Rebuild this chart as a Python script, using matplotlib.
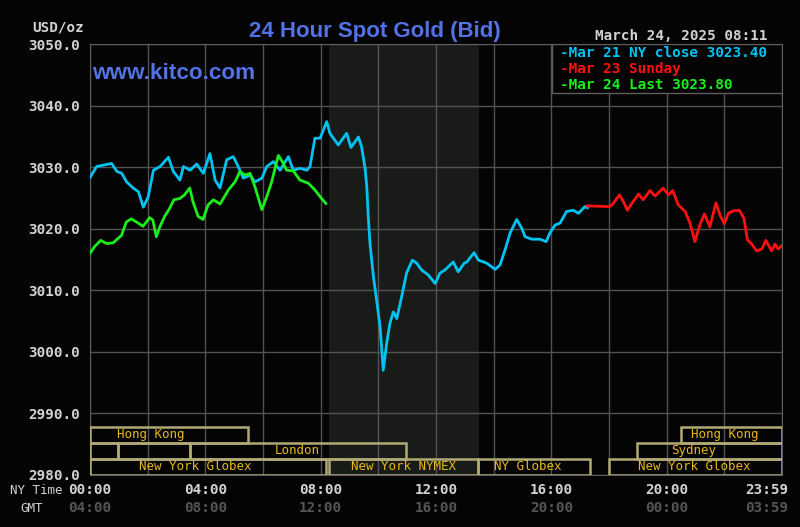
import matplotlib
matplotlib.use("Agg")
import matplotlib.pyplot as plt
import matplotlib.transforms as mtransforms
from matplotlib.patches import Rectangle

# time is hours after midnight, NY time; price is USD/oz bid
mar21_hours = [0.0, 0.23, 0.75, 0.93, 1.10, 1.27, 1.50, 1.68, 1.85, 2.02, 2.20, 2.43, 2.72, 2.89,
               3.12, 3.24, 3.47, 3.70, 3.93, 4.16, 4.34, 4.51, 4.74, 4.97, 5.14, 5.32, 5.55, 5.72,
               5.96, 6.13, 6.36, 6.59, 6.88, 7.05, 7.28, 7.52, 7.63, 7.80, 7.98, 8.21, 8.32, 8.61,
               8.90, 9.05, 9.31, 9.42, 9.54, 9.60, 9.65, 9.71, 9.83, 9.94, 10.06, 10.17, 10.29,
               10.40, 10.52, 10.64, 10.81, 10.98, 11.18, 11.33, 11.50, 11.73, 11.97, 12.14, 12.31,
               12.60, 12.77, 12.98, 13.07, 13.32, 13.47, 13.76, 14.05, 14.22, 14.39, 14.57, 14.80,
               14.97, 15.09, 15.32, 15.61, 15.82, 15.95, 16.13, 16.30, 16.53, 16.76, 16.94, 17.17,
               17.25]
mar21_price = [3028.3, 3030.1, 3030.6, 3029.3, 3029.0, 3027.6, 3026.6, 3026.0, 3023.5, 3025.2,
               3029.5, 3030.1, 3031.6, 3029.3, 3027.9, 3030.1, 3029.5, 3030.5, 3029.0, 3032.2,
               3027.9, 3026.6, 3031.2, 3031.7, 3030.1, 3028.2, 3028.7, 3027.6, 3028.2, 3030.1,
               3030.9, 3029.5, 3031.7, 3029.5, 3029.8, 3029.5, 3030.1, 3034.7, 3034.7, 3037.4,
               3035.5, 3033.6, 3035.5, 3033.2, 3034.9, 3033.3, 3029.8, 3026.8, 3022.0, 3017.6,
               3012.2, 3008.4, 3004.1, 2997.0, 3001.4, 3004.6, 3006.5, 3005.4, 3009.0, 3012.8,
               3014.9, 3014.4, 3013.3, 3012.5, 3011.1, 3012.8, 3013.3, 3014.6, 3013.0, 3014.4,
               3014.6, 3016.1, 3014.9, 3014.4, 3013.4, 3014.1, 3016.5, 3019.3, 3021.5, 3020.1,
               3018.7, 3018.3, 3018.3, 3017.9, 3019.3, 3020.6, 3020.9, 3022.8, 3023.0, 3022.5,
               3023.6, 3023.4]

mar23_hours = [17.25, 18.03, 18.15, 18.36, 18.50, 18.64, 18.79, 19.02, 19.19, 19.42, 19.60, 19.88,
               20.06, 20.21, 20.40, 20.64, 20.81, 20.98, 21.15, 21.31, 21.50, 21.71, 21.85, 22.00,
               22.14, 22.31, 22.52, 22.68, 22.80, 22.95, 23.12, 23.30, 23.44, 23.64, 23.76, 23.87,
               23.98]
mar23_price = [3023.7, 3023.6, 3024.1, 3025.5, 3024.4, 3023.0, 3024.1, 3025.6, 3024.7, 3026.2,
               3025.3, 3026.6, 3025.5, 3026.2, 3023.9, 3022.8, 3020.9, 3017.9, 3020.6, 3022.4,
               3020.3, 3024.2, 3022.2, 3020.8, 3022.5, 3022.9, 3023.0, 3021.7, 3018.2, 3017.5,
               3016.4, 3016.7, 3018.1, 3016.4, 3017.5, 3016.7, 3017.2]

mar24_hours = [0.0, 0.16, 0.37, 0.57, 0.80, 0.97, 1.09, 1.26, 1.43, 1.61, 1.84, 2.07, 2.18, 2.30,
               2.42, 2.59, 2.76, 2.91, 3.11, 3.28, 3.46, 3.57, 3.75, 3.92, 4.10, 4.28, 4.51, 4.80,
               5.03, 5.20, 5.38, 5.55, 5.72, 5.96, 6.13, 6.30, 6.53, 6.67, 6.82, 7.05, 7.28, 7.57,
               7.80, 7.98, 8.18]
mar24_price = [3016.0, 3017.1, 3018.1, 3017.6, 3017.7, 3018.4, 3018.9, 3021.1, 3021.6, 3021.1,
               3020.4, 3021.8, 3021.4, 3018.7, 3020.3, 3022.0, 3023.3, 3024.7, 3024.9, 3025.5,
               3026.6, 3024.4, 3022.0, 3021.5, 3023.9, 3024.7, 3024.0, 3026.3, 3027.6, 3029.3,
               3028.7, 3029.0, 3026.8, 3023.1, 3025.2, 3027.6, 3031.9, 3030.9, 3029.5, 3029.4,
               3027.9, 3027.4, 3026.3, 3025.2, 3024.1]

legend_labels = ["-Mar 21 NY close 3023.40", "-Mar 23 Sunday", "-Mar 24 Last 3023.80"]

ny_tick_hours = [0, 4, 8, 12, 16, 20]
ny_tick_labels = ["00:00", "04:00", "08:00", "12:00", "16:00", "20:00"]
gmt_tick_labels = ["04:00", "08:00", "12:00", "16:00", "20:00", "00:00"]

# trading sessions: (label, start hour, end hour, row, label centre hour)
sessions = [
    ("New York Globex", 0.0, 8.19, 0, 3.64),
    ("New York NYMEX", 8.28, 13.45, 0, 10.89),
    ("NY Globex", 13.45, 17.34, 0, 15.19),
    ("New York Globex", 18.0, 24.0, 0, 20.95),
    ("", 0.0, 0.96, 1, 0.0),
    ("", 0.96, 3.47, 1, 0.0),
    ("London", 3.47, 10.95, 1, 7.18),
    ("Sydney", 18.96, 24.0, 1, 20.95),
    ("Hong Kong", 0.0, 5.47, 2, 2.12),
    ("Hong Kong", 20.5, 24.0, 2, 22.02),
]
row_bottoms = [2980.0, 2982.6, 2985.25]
row_height = 2.6

nymex_open, nymex_close = 8.28, 13.5

cyan = "#00c3f2"
red = "#ff1010"
green = "#19f019"
blue = "#5272e6"
light = "#d2d2d2"
gold = "#e8b81a"
khaki = "#b2aa76"
mono = "DejaVu Sans Mono"

fig = plt.figure(figsize=(8, 5.27), dpi=100, facecolor="#040404")
ax = fig.add_axes([0.1125, 0.0987, 0.865, 0.8178])
ax.set_facecolor("#040404")

ax.axvspan(nymex_open, nymex_close, color="#191b19", zorder=0, lw=0)

ax.set_xlim(0, 24)
ax.set_ylim(2980, 3050)
ax.set_xticks(range(0, 25, 2))
ax.set_yticks(range(2980, 3051, 10))
ax.set_yticklabels(["%.1f" % v for v in range(2980, 3051, 10)])
ax.tick_params(axis="x", length=0, labelbottom=False)
ax.tick_params(axis="y", length=0, pad=7, labelcolor=light)
for lab in ax.get_yticklabels():
    lab.set_fontfamily(mono)
    lab.set_fontweight("bold")
    lab.set_fontsize(10.3)
ax.grid(True, color="#525252", linewidth=1, zorder=1)
ax.set_axisbelow(True)
for sp in ax.spines.values():
    sp.set_color("#5e5e5e")

ax.plot(mar21_hours, mar21_price, color=cyan, lw=2, zorder=3)
ax.plot(mar23_hours, mar23_price, color=red, lw=2, zorder=3)
ax.plot(mar24_hours, mar24_price, color=green, lw=2, zorder=4)

# session boxes along the bottom
for name, start, end, row, centre in sessions:
    ax.add_patch(Rectangle((start, row_bottoms[row]), end - start, row_height,
                           fill=False, edgecolor=khaki, lw=1.8, zorder=5))
    if name:
        ax.text(centre, row_bottoms[row] + row_height / 2, name, color=gold,
                fontfamily=mono, fontsize=9, ha="center", va="center", zorder=6)

# legend box
ax.add_patch(Rectangle((0.6676, 0.8863), 0.3324, 0.1137, transform=ax.transAxes,
                       facecolor="#040404", edgecolor="#5e5e5e", lw=1, zorder=7))
for lab, col, yy in zip(legend_labels, [cyan, red, green], [0.892, 0.862, 0.832]):
    fig.text(0.7, yy, lab, color=col, fontfamily=mono, fontweight="bold",
             fontsize=10.4, va="baseline", zorder=8)

# titles
fig.text(0.469, 0.929, "24 Hour Spot Gold (Bid)", color=blue, fontfamily="Liberation Sans",
         fontweight="bold", fontsize=16, ha="center", va="baseline")
fig.text(0.115, 0.850, "www.kitco.com", color=blue, fontfamily="Liberation Sans",
         fontweight="bold", fontsize=16.2, va="baseline")
fig.text(0.04, 0.941, "USD/oz", color=light, fontfamily=mono, fontweight="bold",
         fontsize=10.3, va="baseline")
fig.text(0.959, 0.924, "March 24, 2025 08:11", color=light, fontfamily=mono,
         fontweight="bold", fontsize=10.3, ha="right", va="baseline")

# time axis labels
trans = mtransforms.blended_transform_factory(ax.transData, fig.transFigure)
for h, ny, gmt in zip(ny_tick_hours, ny_tick_labels, gmt_tick_labels):
    ax.text(h, 0.0626, ny, transform=trans, color=light, fontfamily=mono,
            fontweight="bold", fontsize=10.3, ha="center", va="baseline")
    ax.text(h, 0.029, gmt, transform=trans, color="#555555", fontfamily=mono,
            fontweight="bold", fontsize=10.3, ha="center", va="baseline")
fig.text(0.985, 0.0626, "23:59", color=light, fontfamily=mono, fontweight="bold",
         fontsize=10.3, ha="right", va="baseline")
fig.text(0.985, 0.029, "03:59", color="#555555", fontfamily=mono, fontweight="bold",
         fontsize=10.3, ha="right", va="baseline")
fig.text(0.0125, 0.0626, "NY Time", color=light, fontfamily=mono, fontsize=9, va="baseline")
fig.text(0.026, 0.029, "GMT", color=light, fontfamily=mono, fontsize=9, va="baseline")

fig.savefig("out.png", dpi=100, facecolor=fig.get_facecolor())
